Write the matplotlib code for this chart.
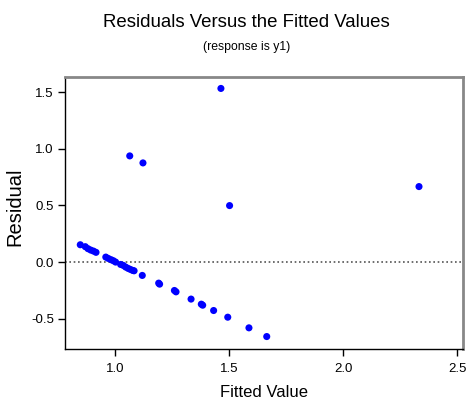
import matplotlib
matplotlib.use("Agg")
import matplotlib.pyplot as plt
import numpy as np

# fitted values and residuals
fitted = [0.846, 0.868, 0.880, 0.892, 0.904, 0.915, 0.958, 0.969, 0.981, 0.991,
          1.001, 1.023, 1.034, 1.045, 1.056, 1.066, 1.076, 1.082, 1.118, 1.190,
          1.194, 1.259, 1.266, 1.332, 1.377, 1.383, 1.431, 1.493, 1.586, 1.664,
          1.063, 1.121, 1.463, 1.501, 2.332]
resid = [0.153, 0.136, 0.118, 0.106, 0.097, 0.086, 0.044, 0.032, 0.021, 0.012,
         0.000, -0.021, -0.029, -0.044, -0.056, -0.065, -0.074, -0.077, -0.118, -0.186,
         -0.195, -0.251, -0.263, -0.327, -0.372, -0.381, -0.428, -0.487, -0.581, -0.658,
         0.938, 0.876, 1.534, 0.499, 0.667]

xticks = [1.0, 1.5, 2.0, 2.5]
yticks = [-0.5, 0.0, 0.5, 1.0, 1.5]

plt.rcParams['font.family'] = ["Liberation Sans", "DejaVu Sans"]

fig = plt.figure(figsize=(4.68, 4.07), dpi=100)
ax = fig.add_axes([0.1389, 0.1425, 0.8504, 0.6683])

ax.scatter(fitted, resid, s=26, color="#0000ff", edgecolors="none", zorder=3)
ax.axhline(0, color="#555555", linestyle=(0, (1, 1.6)), linewidth=1.2)

ax.set_xlim(0.779, 2.525)
ax.set_ylim(-0.768, 1.635)
ax.set_xticks(xticks)
ax.set_yticks(yticks)
ax.set_xticklabels([f"{v:.1f}" for v in xticks], fontsize=9.5)
ax.set_yticklabels([f"{v:.1f}" for v in yticks], fontsize=9.5)
ax.tick_params(direction="out", length=5, width=1)
ax.tick_params(axis="x", pad=5)
ax.tick_params(axis="y", pad=3)

for side in ["left", "bottom"]:
    ax.spines[side].set_color("black")
    ax.spines[side].set_linewidth(1.0)
for side in ["top", "right"]:
    ax.spines[side].set_color("#888888")
    ax.spines[side].set_linewidth(2.0)

ax.set_xlabel("Fitted Value", fontsize=12, labelpad=7)
# y label placed by hand, it sits close to the left edge
fig.text(0.031, 0.491, "Residual", fontsize=14.5, rotation=90,
         ha="center", va="center")

fig.text(0.526, 0.934, "Residuals Versus the Fitted Values",
         fontsize=13.4, ha="center", va="baseline")
fig.text(0.526, 0.877, "(response is y1)", fontsize=8.8,
         ha="center", va="baseline")

fig.savefig("out.png", dpi=100)
